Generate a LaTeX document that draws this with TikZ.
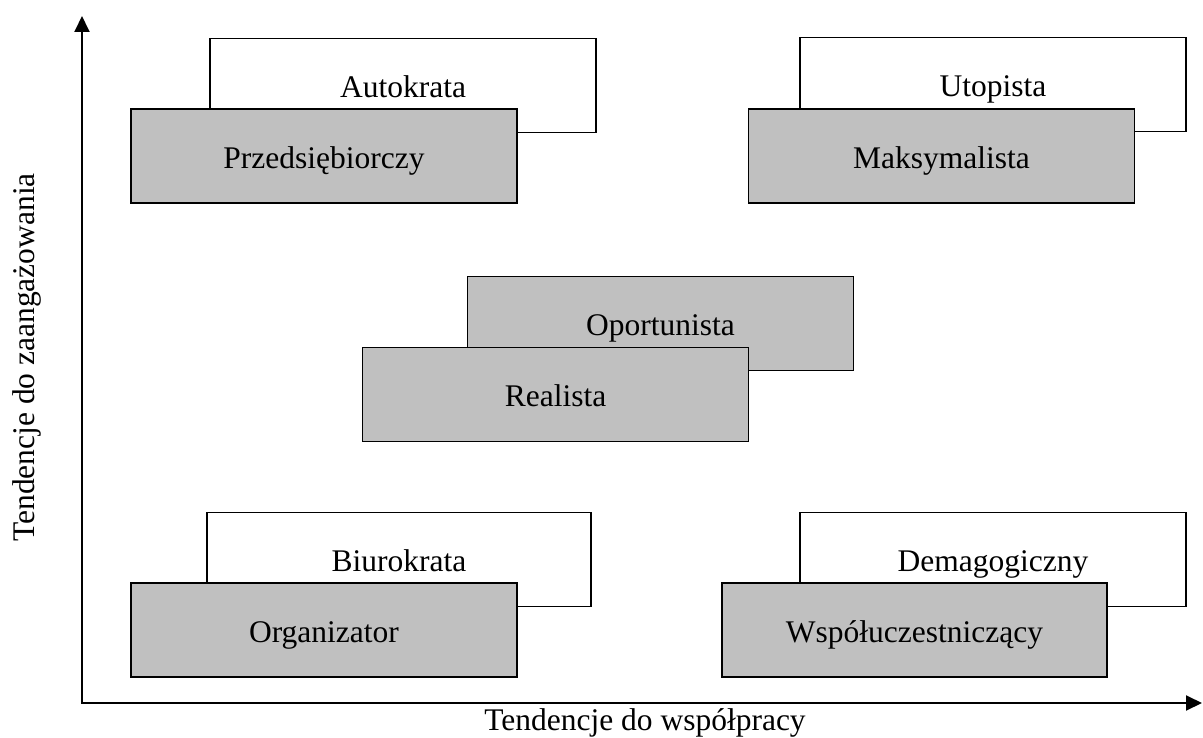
\documentclass[tikz,border=0pt]{standalone}
\usepackage{fontspec}
\setmainfont{Liberation Serif}
\usetikzlibrary{arrows.meta}
\begin{document}
\begin{tikzpicture}[x=1bp,y=-1bp,
  every node/.style={font=\fontsize{31.5bp}{37bp}\selectfont},
  boxbase/.style={draw=black, line width=1.6bp, minimum width=386bp, minimum height=94bp,
    inner sep=0pt, text height=24bp, text depth=0pt, anchor=center},
  whitebox/.style={boxbase, fill=white},
  graybox/.style={boxbase, fill=graybg},
  axis/.style={line width=1.9bp, {Triangle[length=16bp,width=15bp]}-{Triangle[length=16bp,width=15bp]}},
  lbl/.style={inner sep=0pt, anchor=base}
]
\definecolor{graybg}{RGB}{192,192,192}
\useasboundingbox (0,0) rectangle (1203,738);
\fill[white] (0,0) rectangle (1203,738);

% axes
\coordinate (ytop) at (82,16);
\coordinate (origin) at (82,703);
\coordinate (xend) at (1202,703);
\draw[axis] (ytop) -- (origin) -- (xend);

% top-left
\node[whitebox] (autokrata) at (403,85.5) {Autokrata};
\node[graybox] (przeds) at (324,156) {Przedsiębiorczy};
% top-right
\node[whitebox] (utopista) at (993,84.5) {Utopista};
\node[graybox] (maks) at (941.5,156) {Maksymalista};
% centre
\node[graybox] (oport) at (660.5,323.5) {Oportunista};
\node[graybox] (realista) at (555.5,394.5) {Realista};
% bottom-left
\node[whitebox, minimum width=384bp] (biurokrata) at (399,559.5) {Biurokrata};
\node[graybox] (organizator) at (324,630) {Organizator};
% bottom-right
\node[whitebox] (demagog) at (993,559.5) {Demagogiczny};
\node[graybox, minimum width=385bp] (wspol) at (914.5,630) {Współuczestniczący};

% axis labels
\node[lbl] (xlabel) at (645,730) {Tendencje do współpracy};
\node[lbl, rotate=90] (ylabel) at (34,357.5) {Tendencje do zaangażowania};
\end{tikzpicture}
\end{document}
